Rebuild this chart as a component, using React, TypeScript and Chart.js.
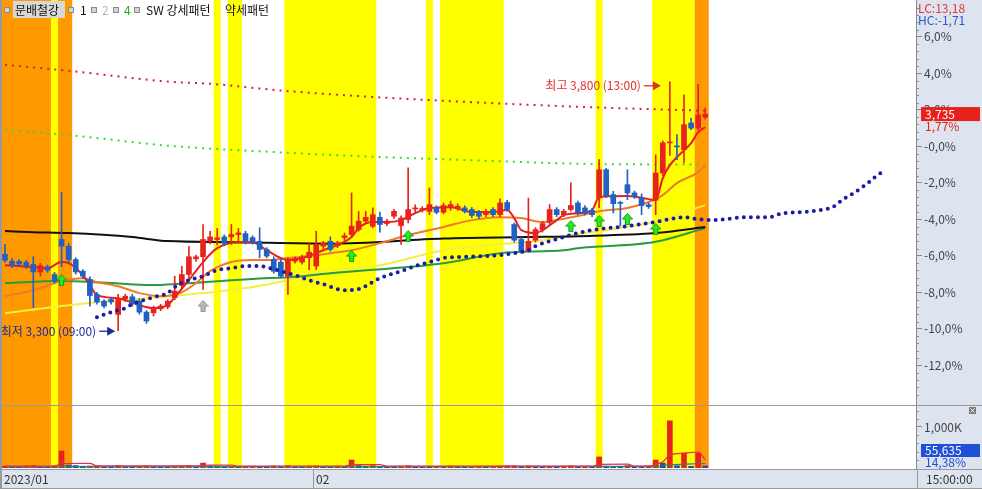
import React, { useEffect, useRef } from 'react';
import { Chart, registerables } from 'chart.js';

Chart.register(...registerables);

const FONT = '"Noto Sans CJK KR", "Noto Sans", sans-serif';
const UP = '#e8231e';
const DOWN = '#2160c4';
const ORANGE = '#ff9900';
const YELLOW = '#ffff00';
const AXIS_BG = '#dde4ef';

// ---- candles: % change vs. base price, one bar per period ----
const opens = [
  -5.92, -6.29, -6.30, -6.35, -6.47, -6.88, -6.60, -7.02, -5.10, -5.47,
  -6.20, -6.84, -7.29, -8.11, -8.48, -8.39, -9.21, -8.35, -8.24, -8.48,
  -9.08, -9.12, -8.90, -8.79, -8.29, -7.62, -7.02, -6.16, -6.05, -5.20,
  -5.10, -4.96, -4.96, -4.83, -4.78, -5.00, -5.20, -5.65, -6.20, -6.34,
  -7.11, -6.29, -6.34, -6.10, -6.56, -5.47, -5.20, -5.45, -5.00, -4.83,
  -4.56, -4.10, -4.38, -3.89, -4.23, -3.83, -4.34, -4.01, -3.43, -3.50,
  -3.56, -3.37, -3.61, -3.32, -3.37, -3.37, -3.46, -3.61, -3.74, -3.46,
  -3.74, -3.07, -4.28, -5.10, -5.74, -5.14, -4.56, -4.16, -3.46, -3.74,
  -3.46, -3.10, -3.37, -3.50, -2.83, -1.28, -2.64, -3.07, -2.10, -2.55,
  -2.83, -3.20, -2.95, -1.46, 0.19, 0.00, -0.18, 1.28, 1.00, 1.60,
];
const highs = [
  -5.37, -6.15, -6.20, -6.25, -6.05, -6.40, -6.50, -6.90, -2.53, -5.30,
  -6.10, -6.75, -7.15, -8.00, -8.40, -8.30, -8.11, -8.10, -8.10, -8.35,
  -9.00, -8.75, -8.65, -8.40, -7.11, -6.57, -5.47, -5.95, -4.28, -4.65,
  -4.50, -4.85, -4.28, -4.50, -4.65, -4.90, -4.46, -5.55, -6.05, -6.20,
  -6.10, -6.05, -5.95, -5.29, -4.65, -5.20, -4.95, -5.20, -4.75, -2.55,
  -3.56, -3.56, -3.37, -3.60, -4.00, -3.45, -3.80, -1.18, -3.20, -3.30,
  -2.28, -3.25, -3.10, -3.00, -3.15, -3.25, -3.35, -3.50, -3.45, -3.35,
  -2.88, -2.95, -4.20, -5.00, -2.83, -4.45, -4.10, -3.19, -3.35, -3.45,
  -2.00, -3.00, -3.25, -3.40, -0.73, -1.20, -2.46, -3.00, -1.28, -2.45,
  -2.60, -3.10, -0.46, 0.30, 3.54, 0.64, 2.83, 1.55, 3.40, 2.10,
];
const lows = [
  -6.36, -6.65, -6.55, -6.70, -8.83, -7.10, -6.90, -7.50, -6.60, -6.35,
  -7.00, -7.25, -8.75, -8.65, -8.85, -8.65, -10.10, -8.50, -8.75, -9.20,
  -9.70, -9.30, -9.00, -8.90, -8.40, -7.84, -7.29, -6.30, -7.84, -5.35,
  -5.40, -5.45, -5.37, -5.20, -5.35, -5.35, -6.10, -6.10, -6.95, -7.20,
  -8.11, -6.40, -6.45, -6.75, -6.75, -5.60, -5.75, -5.55, -5.15, -4.92,
  -4.65, -4.20, -4.46, -4.70, -4.35, -3.95, -5.37, -4.20, -3.60, -3.60,
  -3.74, -3.70, -3.70, -3.50, -3.50, -3.65, -3.90, -3.95, -3.85, -3.85,
  -3.85, -3.55, -5.25, -5.85, -5.80, -5.25, -4.70, -4.30, -3.85, -3.85,
  -3.55, -3.75, -3.75, -3.85, -3.37, -2.80, -3.65, -4.37, -2.92, -2.85,
  -3.74, -3.40, -3.74, -1.60, -0.50, -0.73, -0.91, 0.91, 0.90, 1.50,
];
const closes = [
  -6.24, -6.53, -6.45, -6.55, -6.88, -6.53, -6.78, -7.38, -5.47, -6.20,
  -6.88, -7.11, -8.17, -8.53, -8.75, -8.53, -8.39, -8.21, -8.61, -9.08,
  -9.57, -8.93, -8.75, -8.48, -7.93, -7.02, -6.05, -6.05, -5.10, -4.96,
  -5.01, -5.32, -4.83, -4.74, -5.20, -5.25, -5.65, -6.01, -6.84, -7.11,
  -6.20, -6.15, -6.07, -5.80, -5.37, -5.29, -5.65, -5.30, -4.90, -4.37,
  -4.10, -3.89, -3.74, -4.28, -4.10, -3.56, -3.92, -3.46, -3.37, -3.40,
  -3.19, -3.61, -3.24, -3.19, -3.28, -3.56, -3.79, -3.83, -3.56, -3.74,
  -3.10, -3.46, -5.14, -5.74, -5.20, -4.56, -4.23, -3.46, -3.74, -3.56,
  -3.24, -3.65, -3.65, -3.74, -1.28, -2.70, -3.14, -3.10, -2.55, -2.74,
  -3.24, -3.30, -1.46, 0.19, 0.24, -0.05, 1.19, 1.00, 1.73, 1.77,
];
// volume in thousands
const volumes = [
  45, 40, 35, 50, 60, 40, 35, 55,
  415, 70, 60, 45, 50, 55, 40, 35,
  60, 40, 35, 45, 50, 40, 35, 30,
  45, 50, 60, 40, 120, 55, 45, 35,
  40, 30, 35, 45, 40, 35, 50, 45,
  55, 40, 35, 45, 50, 40, 35, 45,
  40, 195, 60, 45, 60, 40, 35, 30,
  45, 55, 40, 35, 30, 40, 35, 45,
  35, 30, 35, 40, 35, 40, 45, 55,
  55, 40, 50, 45, 35, 40, 35, 45,
  55, 40, 45, 35, 270, 45, 40, 35,
  60, 40, 35, 45, 195, 120, 1150, 55,
  365, 40, 365, 50,
];

// ---- pattern bands (bar index ranges) ----
const bandStart = [0, 7, 8, 30, 32, 40, 60, 62, 84, 92, 98];
const bandEnd = [6, 7, 9, 30, 33, 52, 60, 70, 84, 97, 99];
const bandKind = ['o', 'y', 'o', 'y', 'y', 'y', 'y', 'y', 'y', 'y', 'o'];

// ---- moving averages / indicator lines, [bar index, %] ----
const maRed = [[0,-6.51],[4,-6.62],[6,-6.67],[8,-6.34],[9,-6.40],[11,-7.06],[12,-7.60],[13,-8.15],[16,-8.32],[19,-8.70],[21,-8.86],[23,-8.70],[24,-8.26],[26,-7.33],[28,-6.34],[30,-5.58],[33,-5.25],[35,-5.25],[37,-5.69],[39,-6.12],[40,-6.23],[42,-6.12],[45,-5.69],[47,-5.41],[49,-4.97],[50,-4.48],[52,-4.15],[54,-4.15],[56,-4.04],[58,-3.66],[60,-3.38],[63,-3.33],[66,-3.60],[69,-3.60],[71,-3.49],[72,-3.93],[73,-4.59],[75,-4.75],[76,-4.59],[78,-4.04],[79,-3.77],[81,-3.66],[83,-3.49],[84,-2.78],[88,-2.72],[91,-2.89],[92,-2.94],[93,-1.74],[94,-1.03],[95,-0.59],[97,0.18],[98,0.78],[99,1.06]];
const maOrange = [[0,-8.21],[4,-7.88],[8,-7.38],[11,-7.22],[13,-7.44],[16,-7.66],[19,-8.04],[22,-8.21],[25,-7.99],[27,-7.49],[29,-6.84],[32,-6.34],[35,-6.23],[37,-6.23],[40,-6.12],[43,-6.01],[46,-5.85],[49,-5.69],[53,-5.30],[57,-4.86],[62,-4.42],[66,-4.04],[70,-3.88],[73,-3.93],[76,-4.15],[78,-4.04],[81,-3.82],[84,-3.55],[88,-3.38],[91,-3.05],[93,-2.67],[95,-2.01],[98,-1.41],[99,-1.03]];
const maYellow = [[0,-9.14],[8,-8.75],[13,-8.54],[22,-8.26],[28,-8.04],[35,-7.70],[40,-7.33],[46,-6.78],[53,-6.51],[62,-5.69],[76,-5.14],[82,-4.75],[91,-4.20],[99,-3.22]];
const maGreen = [[0,-7.49],[8,-7.38],[13,-7.44],[21,-7.60],[28,-7.44],[35,-7.27],[42,-7.11],[46,-6.95],[62,-6.40],[70,-5.85],[79,-5.69],[81,-5.58],[92,-5.23],[99,-4.48]];
const maBlack = [[0,-4.64],[4,-4.70],[9,-4.75],[18,-4.97],[23,-5.19],[32,-5.25],[46,-5.33],[62,-5.05],[74,-4.97],[81,-4.92],[92,-4.75],[99,-4.42]];
const redDotted = [[0,4.47],[10,4.10],[23,3.55],[29,3.43],[39,3.06],[51,2.73],[64,2.46],[81,2.17],[99,1.95]];
const greenDotted = [[0,0.91],[10,0.58],[23,0.04],[39,-0.33],[51,-0.55],[64,-0.73],[81,-0.95],[99,-1.00]];
const blueDots = [[13,-9.36],[15,-9.08],[17,-8.86],[18,-8.64],[21,-8.26],[23,-8.04],[24,-7.71],[26,-7.33],[28,-7.11],[30,-6.78],[32,-6.67],[34,-6.56],[36,-6.56],[38,-6.73],[41,-7.06],[43,-7.33],[45,-7.55],[48,-7.88],[50,-7.82],[53,-7.22],[56,-6.84],[58,-6.56],[60,-6.34],[62,-6.12],[64,-6.07],[68,-6.01],[70,-5.96],[72,-5.85],[74,-5.69],[75,-5.47],[77,-5.19],[79,-4.97],[81,-4.75],[83,-4.59],[85,-4.48],[87,-4.42],[89,-4.31],[92,-4.15],[94,-3.99],[96,-3.88],[98,-3.99],[100,-4.04],[105,-3.88],[108,-3.88],[110,-3.66],[113,-3.60],[116,-3.44],[117,-3.33],[118,-3.05],[119,-2.78],[120,-2.56],[121,-2.29],[122,-2.01],[123,-1.68],[124,-1.41]];

// volume averages [bar index, thousands]
const volMaRed = [[0,45],[7,45],[8,110],[12,115],[13,50],[27,50],[28,70],[32,70],[33,45],[48,45],[49,80],[53,80],[54,45],[83,45],[84,90],[88,95],[89,45],[91,50],[92,90],[93,150],[94,320],[96,360],[98,390],[99,200]];
const volMaTeal = [[0,35],[50,35],[92,40],[94,80],[99,110]];

// signal arrows
const upArrowIdx = [8, 49, 57, 80, 84, 88, 92];
const upArrowVal = [-7.33, -6.01, -4.92, -4.37, -4.09, -3.98, -4.53];
const grayArrowIdx = [28];
const grayArrowVal = [-8.75];

// axis / labels
const yTicks = [-12, -10, -8, -6, -4, -2, 0, 2, 4, 6];
const volTicks = [1000];
const dateIdx = [0, 44];
const dateText = ['2023/01', '02'];
const timeText = '15:00:00';
const stockName = '문배철강';
const legendItems = ['1', '2', '4', 'SW 강세패턴', '약세패턴'];
const hiIdx = 94, hiVal = 3.54, hiText = '최고 3,800 (13:00)';
const loIdx = 16, loVal = -10.10, loText = '최저 3,300 (09:00)';
const lastPrice = '3,735', lastPct = '1,77%', lastPctVal = 1.77;
const lastVol = '55,635', lastVolPct = '14,38%';
const lcText = 'LC:13,18', hcText = 'HC:-1,71';

const X_MIN = -0.424, X_MAX = 128.8;
const Y_MIN = -14.17, Y_MAX = 8.02;
const V_MAX = 1512;

const candleColors = closes.map((c, i) => (c >= opens[i] ? UP : DOWN));
const volColors = volumes.map((v, i) => (i === 0 || v >= volumes[i - 1] ? UP : '#3040c0'));

function fmtPct(v: number) {
  const s = Math.abs(v).toFixed(1).replace('.', ',');
  return (v <= 0 ? '-' : '') + s + '%';
}

function makeArrow(fill: string, stroke: string) {
  const c = document.createElement('canvas');
  c.width = 11; c.height = 12;
  const g = c.getContext('2d')!;
  g.beginPath();
  g.moveTo(5.5, 0.5); g.lineTo(10.5, 6); g.lineTo(7.5, 6); g.lineTo(7.5, 11.5);
  g.lineTo(3.5, 11.5); g.lineTo(3.5, 6); g.lineTo(0.5, 6); g.closePath();
  g.fillStyle = fill; g.fill();
  g.strokeStyle = stroke; g.lineWidth = 1; g.stroke();
  return c;
}

function drawBands(chart: any) {
  const { ctx, chartArea: ca } = chart;
  const xs = chart.scales.x;
  ctx.save();
  ctx.beginPath(); ctx.rect(ca.left, ca.top, ca.right - ca.left, ca.bottom - ca.top); ctx.clip();
  bandStart.forEach((s, k) => {
    const x0 = xs.getPixelForValue(s - 0.5);
    const x1 = xs.getPixelForValue(bandEnd[k] + 0.5);
    ctx.fillStyle = bandKind[k] === 'o' ? ORANGE : YELLOW;
    ctx.fillRect(x0, ca.top, x1 - x0, ca.bottom - ca.top);
  });
  ctx.restore();
}

function arrowRight(ctx: any, x0: number, x1: number, y: number, color: string) {
  ctx.strokeStyle = color; ctx.fillStyle = color; ctx.lineWidth = 1.3;
  ctx.beginPath(); ctx.moveTo(x0, y); ctx.lineTo(x1 - 5, y); ctx.stroke();
  ctx.beginPath(); ctx.moveTo(x1, y); ctx.lineTo(x1 - 8, y - 4.5); ctx.lineTo(x1 - 8, y + 4.5); ctx.closePath(); ctx.fill();
}

function legIcon(ctx: any, x: number, y: number) {
  ctx.fillStyle = '#8a8a8a'; ctx.fillRect(x, y, 6, 6);
  ctx.fillStyle = '#d4d4d4'; ctx.fillRect(x + 1, y + 1, 4, 4);
}

function noPad(s: any) {
  s.width = 66;
  s.paddingTop = 0; s.paddingBottom = 0; s.paddingLeft = 0; s.paddingRight = 0;
}

const mainDeco = {
  id: 'mainDeco',
  beforeDraw(chart: any) {
    const { ctx, width, height, chartArea: ca } = chart;
    ctx.save();
    ctx.fillStyle = '#ffffff'; ctx.fillRect(0, 0, width, height);
    ctx.fillStyle = AXIS_BG; ctx.fillRect(ca.right, 0, width - ca.right, height);
    ctx.restore();
  },
  beforeDatasetsDraw(chart: any) { drawBands(chart); },
  afterDatasetsDraw(chart: any) {
    const { ctx, chartArea: ca } = chart;
    const xs = chart.scales.x, ys = chart.scales.y;
    ctx.save();
    ctx.beginPath(); ctx.rect(ca.left, ca.top, ca.right - ca.left, ca.bottom - ca.top); ctx.clip();
    ctx.font = `12px ${FONT}`; ctx.textBaseline = 'middle'; ctx.textAlign = 'right';
    const hx = xs.getPixelForValue(hiIdx) - 9;
    const hy = ys.getPixelForValue(hiVal) + 4;
    arrowRight(ctx, hx - 17, hx, hy, '#e0302a');
    ctx.fillStyle = '#e0302a'; ctx.fillText(hiText, hx - 20, hy);
    const lx = xs.getPixelForValue(loIdx) - 3;
    const ly = ys.getPixelForValue(loVal) + 0.5;
    arrowRight(ctx, lx - 16, lx, ly, '#1a2a9a');
    ctx.fillStyle = '#1a2a9a'; ctx.fillText(loText, lx - 19, ly);
    ctx.restore();
  },
  afterDraw(chart: any) {
    const { ctx, width, chartArea: ca } = chart;
    const ys = chart.scales.y;
    ctx.save();
    ctx.fillStyle = '#8a8a8a';
    for (let k = -35; k <= 20; k++) {
      const v = k * 0.4;
      if (v < Y_MIN || v > Y_MAX) continue;
      if (Math.abs(v / 2 - Math.round(v / 2)) < 0.01) continue;
      const y = Math.round(ys.getPixelForValue(v));
      ctx.fillRect(ca.right, y, 3, 1);
    }
    ctx.fillStyle = '#9a9a9a'; ctx.fillRect(0, 0, 2, chart.height);
    ctx.fillStyle = '#9a9a9a'; ctx.fillRect(0, ca.bottom, width, 1);
    ctx.font = `12px ${FONT}`; ctx.textBaseline = 'middle'; ctx.textAlign = 'left';
    ctx.fillStyle = '#e03a3a'; ctx.fillText(lcText, ca.right + 2, 8);
    ctx.fillStyle = '#2a5ac8'; ctx.fillText(hcText, ca.right + 2, 20);
    const py = ys.getPixelForValue(lastPctVal);
    ctx.fillStyle = '#e8201c'; ctx.fillRect(ca.right + 5, py - 7, 59, 14);
    ctx.fillStyle = '#ffffff'; ctx.fillText(lastPrice, ca.right + 9, py);
    ctx.fillStyle = '#e8201c'; ctx.fillText(lastPct, ca.right + 9, py + 12);
    legIcon(ctx, 4, 7);
    ctx.fillStyle = '#d8d8d8'; ctx.fillRect(13, 1, 52, 17);
    ctx.fillStyle = '#111'; ctx.fillText(stockName, 15, 10);
    const icons = [68, 91, 113, 134];
    const tx = [80, 102, 124, 146, 225];
    const tc = ['#111', '#b8b8b8', '#1fae1f', '#111', '#111'];
    icons.forEach((x) => legIcon(ctx, x, 7));
    legendItems.forEach((t, k) => { ctx.fillStyle = tc[k]; ctx.fillText(t, tx[k], 10); });
    ctx.restore();
  },
};

const volDeco = {
  id: 'volDeco',
  beforeDraw(chart: any) {
    const { ctx, width, height, chartArea: ca } = chart;
    ctx.save();
    ctx.fillStyle = '#ffffff'; ctx.fillRect(0, 0, width, height);
    ctx.fillStyle = AXIS_BG; ctx.fillRect(ca.right, 0, width - ca.right, height);
    ctx.fillStyle = AXIS_BG; ctx.fillRect(0, ca.bottom + 1, width, height - ca.bottom - 1);
    ctx.restore();
  },
  beforeDatasetsDraw(chart: any) { drawBands(chart); },
  afterDraw(chart: any) {
    const { ctx, width, chartArea: ca } = chart;
    const xs = chart.scales.x, ys = chart.scales.yv;
    ctx.save();
    ctx.fillStyle = '#8a8a8a';
    for (let v = 200; v < V_MAX; v += 200) {
      if (v === 1000) continue;
      ctx.fillRect(ca.right, Math.round(ys.getPixelForValue(v)), 3, 1);
    }
    ctx.fillRect(ca.right, 0, 1, ca.bottom + 1);
    ctx.fillStyle = '#9a9a9a'; ctx.fillRect(0, 0, 2, ca.bottom + 1);
    ctx.fillStyle = '#7a7a7a'; ctx.fillRect(969, 1, 7, 7);
    ctx.strokeStyle = '#ffffff'; ctx.lineWidth = 1;
    ctx.beginPath(); ctx.moveTo(970.5, 2.5); ctx.lineTo(974.5, 6.5); ctx.moveTo(974.5, 2.5); ctx.lineTo(970.5, 6.5); ctx.stroke();
    ctx.font = `12px ${FONT}`; ctx.textBaseline = 'middle'; ctx.textAlign = 'left';
    ctx.fillStyle = '#1f50d6'; ctx.fillRect(ca.right + 5, ca.bottom - 24, 59, 13);
    ctx.fillStyle = '#ffffff'; ctx.fillText(lastVol, ca.right + 9, ca.bottom - 17.5);
    ctx.fillStyle = '#1f50d6'; ctx.fillText(lastVolPct, ca.right + 9, ca.bottom - 5.5);
    const top = ca.bottom + 1;
    ctx.fillStyle = '#9a9a9a';
    ctx.fillRect(0, top, width, 1);
    ctx.fillRect(0, top + 19, width, 1);
    ctx.fillRect(0, top, 1, 20);
    dateIdx.forEach((d, k) => {
      const x = Math.max(ca.left - 1, Math.round(xs.getPixelForValue(d - 0.5)));
      ctx.fillStyle = '#9a9a9a'; ctx.fillRect(x, top, 1, 19);
      ctx.fillStyle = '#333'; ctx.fillText(dateText[k], x + 3, top + 10);
    });
    ctx.fillStyle = '#9a9a9a'; ctx.fillRect(ca.right + 1, top, 1, 19);
    ctx.fillStyle = '#333'; ctx.fillText(timeText, ca.right + 10, top + 10);
    ctx.restore();
  },
};

function lineDs(pts: number[][], color: string, width: number, order: number, extra: any = {}) {
  return {
    type: 'line',
    data: pts.map(([x, y]) => ({ x, y })),
    borderColor: color,
    borderWidth: width,
    pointRadius: 0,
    cubicInterpolationMode: 'monotone',
    fill: false,
    order,
    ...extra,
  };
}

function mainConfig(): any {
  const green = makeArrow('#22ee22', '#119911');
  const gray = makeArrow('#b8b8b8', '#909090');
  return {
    type: 'bar',
    data: {
      datasets: [
        { type: 'line', data: upArrowIdx.map((x, k) => ({ x, y: upArrowVal[k] })), showLine: false, pointStyle: green, pointRadius: 5, order: 0 },
        { type: 'line', data: grayArrowIdx.map((x, k) => ({ x, y: grayArrowVal[k] })), showLine: false, pointStyle: gray, pointRadius: 5, order: 0 },
        lineDs(blueDots, '#1c1ca6', 4, 1, { borderDash: [0, 7.07], borderCapStyle: 'round' }),
        {
          type: 'bar', data: opens.map((o, i) => ({ x: i, y: [o, closes[i]] })),
          backgroundColor: candleColors, barThickness: 5, maxBarThickness: 5, grouped: false, minBarLength: 1, order: 2,
        },
        {
          type: 'bar', data: lows.map((l, i) => ({ x: i, y: [l, highs[i]] })),
          backgroundColor: candleColors, barThickness: 1, maxBarThickness: 1, grouped: false, order: 3,
        },
        lineDs(maRed, '#e81e1e', 2, 4),
        lineDs(maOrange, '#f07a28', 2, 5),
        lineDs(maBlack, '#111111', 2, 6),
        lineDs(maGreen, '#2a9a40', 2, 7),
        lineDs(maYellow, '#f6ee40', 2, 8),
        lineDs(redDotted, '#cc2448', 2, 9, { borderDash: [2, 5.07] }),
        lineDs(greenDotted, '#33dd33', 2, 10, { borderDash: [2, 5.07] }),
      ],
    },
    options: {
      responsive: false, animation: false, devicePixelRatio: 1, events: [],
      layout: { padding: { left: 2, right: 0, top: 0, bottom: 1 }, autoPadding: false },
      plugins: { legend: { display: false }, tooltip: { enabled: false } },
      scales: {
        x: { type: 'linear', min: X_MIN, max: X_MAX, offset: false, display: false, grid: { display: false } },
        y: {
          type: 'linear', position: 'right', min: Y_MIN, max: Y_MAX,
          afterFit: noPad,
          afterBuildTicks: (s: any) => { s.ticks = yTicks.map((v) => ({ value: v })); },
          ticks: { callback: (v: any) => fmtPct(Number(v)), color: '#444', font: { family: FONT, size: 12 }, padding: 2 },
          grid: { drawOnChartArea: false, drawTicks: true, tickLength: 6, color: '#8a8a8a' },
          border: { display: true, color: '#8a8a8a' },
        },
      },
    },
    plugins: [mainDeco],
  };
}

function volConfig(): any {
  return {
    type: 'bar',
    data: {
      datasets: [
        lineDs(volMaRed, '#e0304a', 1.2, 0, { yAxisID: 'yv' }),
        lineDs(volMaTeal, '#1a8a7a', 1.2, 1, { yAxisID: 'yv' }),
        {
          type: 'bar', yAxisID: 'yv', data: volumes.map((v, i) => ({ x: i, y: v })),
          backgroundColor: volColors, barThickness: 5, maxBarThickness: 5, grouped: false, minBarLength: 1, order: 2,
        },
      ],
    },
    options: {
      responsive: false, animation: false, devicePixelRatio: 1, events: [],
      layout: { padding: { left: 2, right: 0, top: 0, bottom: 21 }, autoPadding: false },
      plugins: { legend: { display: false }, tooltip: { enabled: false } },
      scales: {
        x: { type: 'linear', min: X_MIN, max: X_MAX, offset: false, display: false, grid: { display: false } },
        yv: {
          type: 'linear', position: 'right', min: 0, max: V_MAX,
          afterFit: noPad,
          afterBuildTicks: (s: any) => { s.ticks = volTicks.map((v) => ({ value: v })); },
          ticks: { callback: (v: any) => (Number(v) / 1000).toFixed(3).replace('.', ',') + 'K', color: '#444', font: { family: FONT, size: 12 }, padding: 2 },
          grid: { drawOnChartArea: false, drawTicks: true, tickLength: 6, color: '#8a8a8a' },
          border: { display: true, color: '#8a8a8a' },
        },
      },
    },
    plugins: [volDeco],
  };
}

export default function App() {
  const mainRef = useRef<HTMLCanvasElement>(null);
  const volRef = useRef<HTMLCanvasElement>(null);
  useEffect(() => {
    const main = new Chart(mainRef.current as HTMLCanvasElement, mainConfig());
    const vol = new Chart(volRef.current as HTMLCanvasElement, volConfig());
    return () => { main.destroy(); vol.destroy(); };
  }, []);
  return (
    <div style={{ position: 'fixed', left: 0, top: 0, width: 982, height: 489, background: '#fff', overflow: 'hidden' }}>
      <canvas ref={mainRef} width={982} height={406} style={{ position: 'absolute', left: 0, top: 0, width: 982, height: 406 }} />
      <canvas ref={volRef} width={982} height={83} style={{ position: 'absolute', left: 0, top: 406, width: 982, height: 83 }} />
    </div>
  );
}
